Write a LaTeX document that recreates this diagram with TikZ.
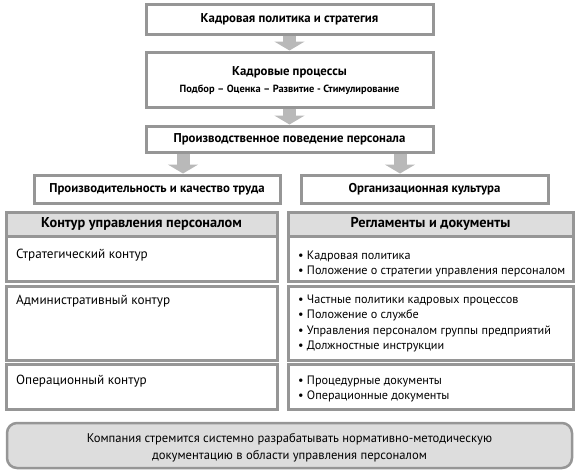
\documentclass[tikz,border=0pt]{standalone}
\usepackage{fontspec}
\setmainfont{PT Sans}
\usetikzlibrary{arrows.meta}
\definecolor{bordergray}{RGB}{150,150,150}
\definecolor{headgray}{RGB}{221,221,221}
\definecolor{arrowgray}{RGB}{185,185,185}
\begin{document}
\begin{tikzpicture}[x=1pt,y=-1pt,
  box/.style={draw=bordergray,line width=3pt,fill=white},
  headbox/.style={draw=bordergray,line width=3pt,fill=headgray},
  roundbox/.style={draw=bordergray,line width=2.5pt,fill=headgray,rounded corners=10pt},
  btitle/.style={font=\bfseries\fontsize{12.8}{14}\selectfont,inner sep=0pt},
  bsub/.style={font=\bfseries\fontsize{10.4}{12}\selectfont,inner sep=0pt},
  htitle/.style={font=\bfseries\fontsize{14.3}{16}\selectfont,inner sep=0pt},
  celltext/.style={font=\fontsize{13.2}{15}\selectfont,inner sep=0pt,anchor=base west},
  btext/.style={font=\fontsize{12.2}{15}\selectfont,inner sep=0pt,anchor=base west},
  notetext/.style={font=\fontsize{12.6}{15}\selectfont,inner sep=0pt,anchor=base},
  flow/.style={line width=13pt,draw=arrowgray,-{Triangle[length=9pt,width=30pt]}},
]
\useasboundingbox (0,0) rectangle (578,472);
% top boxes
\path[box] (146,4) rectangle (433,34);
\node[btitle] (b1) at (289.5,19) {Кадровая политика и стратегия};
\coordinate (b1s) at (289.5,35.5);
\path[box] (146,52) rectangle (433,107);
\node[btitle] (b2) at (289.5,72) {Кадровые процессы};
\node[bsub] (b2sub) at (289.5,90) {Подбор – Оценка – Развитие - Стимулирование};
\coordinate (b2n) at (289.5,50.5);
\coordinate (b2s) at (289.5,108.5);
\path[box] (146,126) rectangle (433,152);
\node[btitle] (b3) at (289.5,139) {Производственное поведение персонала};
\coordinate (b3n) at (289.5,124.5);
\coordinate (b3sl) at (183,153.5);
\coordinate (b3sr) at (400,153.5);
\path[box] (34,175) rectangle (280,203);
\node[btitle] (b4l) at (157,189) {Производительность и качество труда};
\path[box] (301,175) rectangle (548,203);
\node[btitle] (b4r) at (424.5,189) {Организационная культура};
\coordinate (b4ln) at (183,173.5);
\coordinate (b4rn) at (400,173.5);
% arrows
\draw[flow] (b1s) -- (b2n);
\draw[flow] (b2s) -- (b3n);
\draw[flow] (b3sl) -- (b4ln);
\draw[flow] (b3sr) -- (b4rn);
% left table
\path[headbox] (6,212) rectangle (277,236);
\node[htitle] (hl) at (141.5,224) {Контур управления персоналом};
\path[box] (6,236) rectangle (277,281);
\node[celltext] (l1) at (16,258.5) {Стратегический контур};
\path[box] (6,286) rectangle (277,360);
\node[celltext] (l2) at (16,304.5) {Административный контур};
\path[box] (6,364) rectangle (277,409);
\node[celltext] (l3) at (16,384.5) {Операционный контур};
% right table
\path[headbox] (288,212) rectangle (573,236);
\node[htitle] (hr) at (430.5,224) {Регламенты и документы};
\path[box] (288,236) rectangle (573,281);
\node[btext] (r1a) at (298,259) {• Кадровая политика};
\node[btext] (r1b) at (298,274.5) {• Положение о стратегии управления персоналом};
\path[box] (288,286) rectangle (573,360);
\node[btext] (r2a) at (298,303) {• Частные политики кадровых процессов};
\node[btext] (r2b) at (298,318.5) {• Положение о службе};
\node[btext] (r2c) at (298,334) {• Управления персоналом группы предприятий};
\node[btext] (r2d) at (298,349.5) {• Должностные инструкции};
\path[box] (288,364) rectangle (573,409);
\node[btext] (r3a) at (298,384) {• Процедурные документы};
\node[btext] (r3b) at (298,399.5) {• Операционные документы};
% bottom
\path[roundbox] (7,423) rectangle (572,468);
\node[notetext] (n1) at (289.5,442) {Компания стремится системно разрабатывать нормативно-методическую};
\node[notetext] (n2) at (289.5,459) {документацию в области управления персоналом};
\end{tikzpicture}
\end{document}
